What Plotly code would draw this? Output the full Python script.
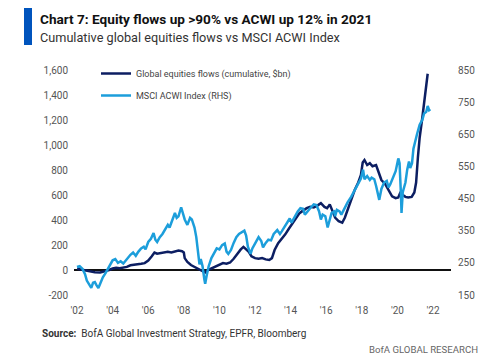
import plotly.graph_objects as go

# Global equities flows (cumulative, $bn) - left axis
flow_x = [2002.0, 2002.2, 2002.4, 2002.6, 2002.8, 2003.0, 2003.3, 2003.6, 2003.8, 2004.0,
          2004.2, 2004.4, 2004.6, 2004.8, 2005.0, 2005.2, 2005.4, 2005.6, 2005.8, 2006.0,
          2006.2, 2006.35, 2006.5, 2006.7, 2006.9, 2007.1, 2007.3, 2007.5, 2007.7, 2007.9,
          2008.0, 2008.05, 2008.2, 2008.4, 2008.6, 2008.8, 2009.0, 2009.2, 2009.35, 2009.6,
          2009.8, 2010.0, 2010.2, 2010.4, 2010.6, 2010.8, 2011.0, 2011.2, 2011.35, 2011.5,
          2011.65, 2011.8, 2012.0, 2012.2, 2012.4, 2012.6, 2012.8, 2012.95, 2013.1, 2013.3,
          2013.5, 2013.7, 2013.9, 2014.1, 2014.3, 2014.5, 2014.7, 2014.9, 2015.1, 2015.3,
          2015.5, 2015.7, 2015.9, 2016.05, 2016.2, 2016.35, 2016.5, 2016.7, 2016.9, 2017.05,
          2017.2, 2017.4, 2017.6, 2017.8, 2017.95, 2018.05, 2018.15, 2018.3, 2018.45, 2018.6,
          2018.8, 2018.95, 2019.1, 2019.3, 2019.5, 2019.7, 2019.9, 2020.05, 2020.15, 2020.3,
          2020.45, 2020.6, 2020.8, 2020.95, 2021.05, 2021.15, 2021.25, 2021.4, 2021.55, 2021.7]
flow_y = [10, 5, 0, -10, -15, -18, -20, -10, 0, 12,
          18, 15, 20, 25, 38, 42, 40, 50, 55, 75,
          110, 140, 130, 135, 140, 145, 140, 150, 155, 150,
          140, 95, 65, 40, 25, 5, -5, -20, 0, 15,
          25, 40, 55, 50, 60, 90, 130, 165, 185, 165,
          145, 110, 95, 90, 95, 85, 80, 95, 160, 215,
          250, 285, 330, 370, 420, 455, 475, 495, 505, 500,
          515, 535, 505, 495, 525, 470, 420, 390, 378, 420,
          480, 560, 640, 700, 760, 860, 880, 840, 855, 830,
          840, 780, 720, 690, 640, 590, 575, 580, 615, 600,
          585, 580, 585, 620, 700, 900, 1060, 1220, 1410, 1570]

# MSCI ACWI Index - right axis
acwi_x = [2002.0, 2002.15, 2002.3, 2002.45, 2002.55, 2002.65, 2002.8, 2002.9, 2003.0, 2003.1,
          2003.2, 2003.3, 2003.45, 2003.6, 2003.75, 2003.9, 2004.0, 2004.15, 2004.3, 2004.45,
          2004.6, 2004.75, 2004.9, 2005.0, 2005.15, 2005.3, 2005.45, 2005.6, 2005.75, 2005.85,
          2006.0, 2006.15, 2006.3, 2006.4, 2006.5, 2006.65, 2006.8, 2006.95, 2007.1, 2007.2,
          2007.35, 2007.5, 2007.6, 2007.7, 2007.85, 2007.95, 2008.05, 2008.2, 2008.35, 2008.45,
          2008.6, 2008.7, 2008.78, 2008.88, 2008.95, 2009.05, 2009.15, 2009.2, 2009.3, 2009.4,
          2009.55, 2009.7, 2009.85, 2010.0, 2010.15, 2010.3, 2010.4, 2010.5, 2010.65, 2010.8,
          2010.95, 2011.1, 2011.25, 2011.4, 2011.5, 2011.6, 2011.75, 2011.85, 2012.0, 2012.2,
          2012.35, 2012.45, 2012.6, 2012.75, 2012.9, 2013.05, 2013.25, 2013.4, 2013.5, 2013.65,
          2013.8, 2013.95, 2014.05, 2014.2, 2014.4, 2014.55, 2014.7, 2014.8, 2014.95, 2015.1,
          2015.3, 2015.45, 2015.6, 2015.7, 2015.8, 2015.95, 2016.08, 2016.15, 2016.3, 2016.45,
          2016.5, 2016.6, 2016.75, 2016.85, 2017.0, 2017.2, 2017.4, 2017.55, 2017.75, 2017.95,
          2018.07, 2018.15, 2018.3, 2018.45, 2018.55, 2018.7, 2018.8, 2018.9, 2018.98, 2019.1,
          2019.25, 2019.4, 2019.5, 2019.6, 2019.75, 2019.9, 2020.05, 2020.12, 2020.2, 2020.23,
          2020.3, 2020.45, 2020.55, 2020.65, 2020.72, 2020.82, 2020.9, 2021.0, 2021.1, 2021.25,
          2021.4, 2021.5, 2021.62, 2021.7, 2021.78, 2021.85]
acwi_y = [237, 240, 232, 215, 195, 185, 172, 188, 190, 180,
          172, 185, 205, 218, 232, 245, 258, 262, 250, 255,
          248, 258, 270, 275, 282, 272, 285, 295, 300, 292,
          315, 325, 343, 322, 315, 330, 340, 355, 368, 360,
          382, 405, 390, 395, 423, 400, 385, 368, 390, 385,
          360, 330, 290, 245, 262, 240, 200, 185, 215, 240,
          265, 280, 295, 292, 305, 310, 285, 278, 290, 312,
          330, 340, 345, 350, 335, 300, 278, 295, 310, 330,
          318, 298, 312, 322, 320, 340, 352, 340, 348, 362,
          378, 388, 375, 392, 410, 420, 418, 400, 412, 420,
          432, 430, 410, 385, 400, 395, 360, 375, 405, 410,
          395, 415, 410, 400, 418, 438, 455, 470, 490, 512,
          540, 510, 520, 508, 515, 510, 490, 465, 446, 480,
          500, 505, 485, 495, 515, 535, 575, 560, 460, 405,
          470, 500, 540, 565, 545, 560, 605, 630, 650, 680,
          695, 715, 720, 738, 725, 728]

left_ticks = [-200, 0, 200, 400, 600, 800, 1000, 1200, 1400, 1600]
left_text = ["-200", "0", "200", "400", "600", "800", "1,000", "1,200", "1,400", "1,600"]
right_ticks = [150, 250, 350, 450, 550, 650, 750, 850]
x_ticks = [2002, 2004, 2006, 2008, 2010, 2012, 2014, 2016, 2018, 2020, 2022]
x_text = ["'02", "'04", "'06", "'08", "'10", "'12", "'14", "'16", "'18", "'20", "'22"]

NAVY = "#0c1e62"
LIGHT = "#1c9edb"
FONT = "Roboto, sans-serif"

fig = go.Figure()
fig.add_trace(go.Scatter(x=flow_x, y=flow_y, mode="lines", name="Global equities flows (cumulative, $bn)",
                         line=dict(color=NAVY, width=2.5), legendgroup="a", yaxis="y"))
fig.add_trace(go.Scatter(x=acwi_x, y=acwi_y, mode="lines", name="MSCI ACWI Index (RHS)",
                         line=dict(color=LIGHT, width=2.5), legendgroup="b", yaxis="y2"))

# page body has an 8px margin, so the figure is offset by 8px; compensate
OFF = 8
L, R, T, B = 74, 49, 70, 64   # target plot area in screenshot pixels
W, H = 500, 359
pw, ph = W - L - R, H - T - B
def px(x): return (x - L) / pw
def py(y): return (H - B - y) / ph

fig.update_layout(
    width=W, height=H,
    margin=dict(l=L - OFF, r=R + OFF, t=T - OFF, b=B + OFF, autoexpand=False),
    paper_bgcolor="white", plot_bgcolor="white",
    font=dict(family=FONT, size=10, color="#555555"),
    showlegend=True,
    legend=dict(x=px(96), y=py(59), xanchor="left", yanchor="top",
                bgcolor="rgba(0,0,0,0)", font=dict(size=9, color="#444444"),
                traceorder="grouped", tracegroupgap=3),
    xaxis=dict(range=[2001.83, 2023.01], tickvals=x_ticks, ticktext=x_text,
               showgrid=False, zeroline=False, showline=False, ticks="", automargin=False,
               ticklabelstandoff=8),
    yaxis=dict(range=[-200, 1600], tickvals=left_ticks, ticktext=left_text,
               showgrid=False, zeroline=True, zerolinecolor="#111111", zerolinewidth=1.5,
               showline=False, ticks="", automargin=False, ticklabelstandoff=5),
    yaxis2=dict(range=[150, 850], tickvals=right_ticks, overlaying="y", side="right",
                showgrid=False, zeroline=False, showline=False, ticks="", automargin=False,
                ticklabelstandoff=6),
)

fig.add_shape(type="rect", xref="paper", yref="paper",
              x0=px(24), x1=px(32), y0=py(45), y1=py(7),
              fillcolor="#0054bd", line=dict(width=0))

fig.add_annotation(xref="paper", yref="paper", x=px(38), y=py(19), xanchor="left", yanchor="middle",
                   text="<b>Chart 7: Equity flows up &gt;90% vs ACWI up 12% in 2021</b>",
                   showarrow=False, font=dict(family=FONT, size=13.6, color="#111111"))
fig.add_annotation(xref="paper", yref="paper", x=px(38), y=py(38), xanchor="left", yanchor="middle",
                   text="Cumulative global equities flows vs MSCI ACWI Index",
                   showarrow=False, font=dict(family=FONT, size=12.7, color="#333333"))
fig.add_annotation(xref="paper", yref="paper", x=px(40), y=py(333), xanchor="left", yanchor="middle",
                   text="<b>Source:</b>  BofA Global Investment Strategy, EPFR, Bloomberg",
                   showarrow=False, font=dict(family=FONT, size=10, color="#333333"))
fig.add_annotation(xref="paper", yref="paper", x=px(480), y=py(349), xanchor="right", yanchor="middle",
                   text="BofA GLOBAL RESEARCH",
                   showarrow=False, font=dict(family=FONT, size=9.6, color="#666666"))

fig.write_html("out.html")
